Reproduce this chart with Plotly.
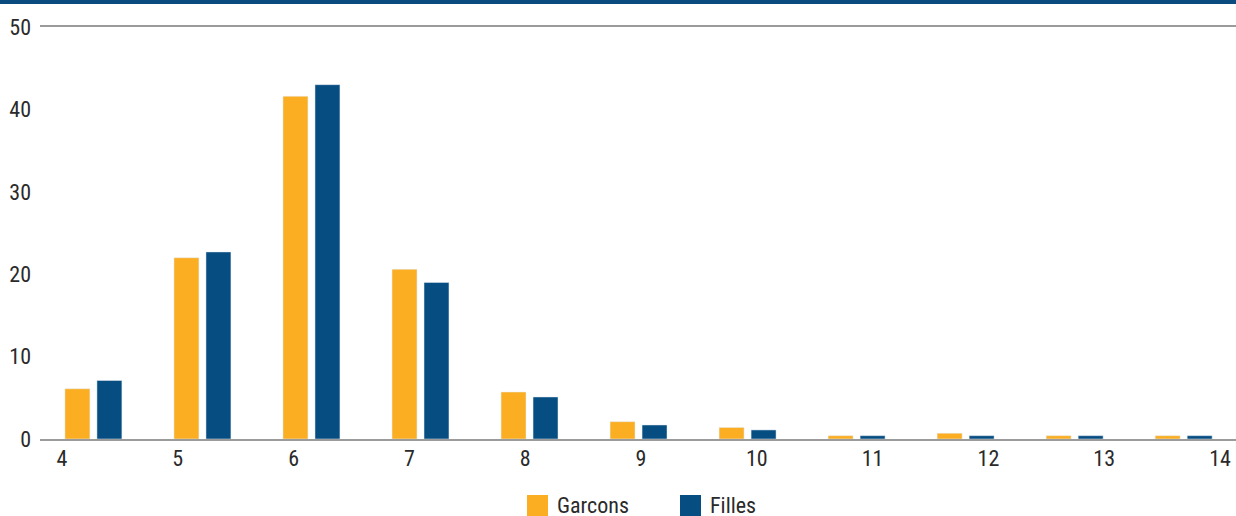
import plotly.graph_objects as go

# Age at first entry, share of pupils (%) by sex
ages = ["4", "5", "6", "7", "8", "9", "10", "11", "12", "13", "14"]
age_ticks = [4, 5, 6, 7, 8, 9, 10, 11, 12, 13, 14]
garcons = [6.1, 22.0, 41.6, 20.6, 5.7, 2.1, 1.4, 0.4, 0.7, 0.4, 0.4]
filles = [7.1, 22.7, 43.0, 19.0, 5.1, 1.7, 1.1, 0.4, 0.4, 0.4, 0.4]
y_ticks = [0, 10, 20, 30, 40, 50]

ORANGE = "#fbae22"
BLUE = "#064d81"
FONT = "Liberation Sans Narrow, Arial Narrow, Roboto Condensed, Liberation Sans, sans-serif"
TEXT = "#2a2a2a"

fig = go.Figure()
fig.add_trace(go.Bar(name="Garcons", x=ages, y=garcons, marker_color=ORANGE,
                     showlegend=False))
fig.add_trace(go.Bar(name="Filles", x=ages, y=filles, marker_color=BLUE,
                     showlegend=False))
# carrier trace for the age labels axis
fig.add_trace(go.Scatter(x=age_ticks, y=[0] * len(age_ticks), xaxis="x2",
                         mode="markers", marker=dict(opacity=0),
                         showlegend=False, hoverinfo="skip"))

fig.update_layout(
    width=1236, height=516,
    margin=dict(l=40, r=0, t=27, b=77),
    paper_bgcolor="white", plot_bgcolor="white",
    barmode="group", bargap=0.413, bargroupgap=0.22,
    font=dict(family=FONT, size=22, color=TEXT),
    xaxis=dict(type="category", range=[-0.49, 10.48], showticklabels=False,
               ticks="", showgrid=False, zeroline=False,
               showline=True, linecolor="#9b9b9b", linewidth=1.5, mirror=True),
    xaxis2=dict(overlaying="x", side="bottom", range=[3.81, 14.138],
                tickvals=age_ticks, ticktext=ages, ticks="",
                showgrid=False, zeroline=False, showline=False,
                ticklabelstandoff=4,
                tickfont=dict(family=FONT, size=22, color=TEXT)),
    yaxis=dict(range=[0, 50], tickvals=y_ticks, ticks="", showgrid=False,
               zeroline=False, showline=False, ticklabelstandoff=8,
               tickfont=dict(family=FONT, size=22, color=TEXT)),
    showlegend=False,
)

# dark band across the top of the figure
fig.add_shape(type="rect", xref="paper", yref="paper",
              x0=-40 / 1196, x1=1.0, y0=(439 - 4) / 412, y1=439 / 412,
              fillcolor="#0a4b80", line_width=0, layer="above")

# legend keys below the plot
legend_items = [("Garcons", ORANGE, 527), ("Filles", BLUE, 680)]
for label, color, px in legend_items:
    fig.add_shape(type="rect", xref="paper", yref="paper",
                  x0=(px - 40) / 1196, x1=(px + 21 - 40) / 1196,
                  y0=(439 - 516) / 412, y1=(439 - 495) / 412,
                  fillcolor=color, line_width=0)
    fig.add_annotation(text=label, xref="paper", yref="paper",
                       x=(px + 28 - 40) / 1196, y=(439 - 504.5) / 412,
                       xanchor="left", yanchor="middle", showarrow=False,
                       height=22, valign="middle",
                       font=dict(family=FONT, size=22, color=TEXT))

fig.write_html("out.html")
